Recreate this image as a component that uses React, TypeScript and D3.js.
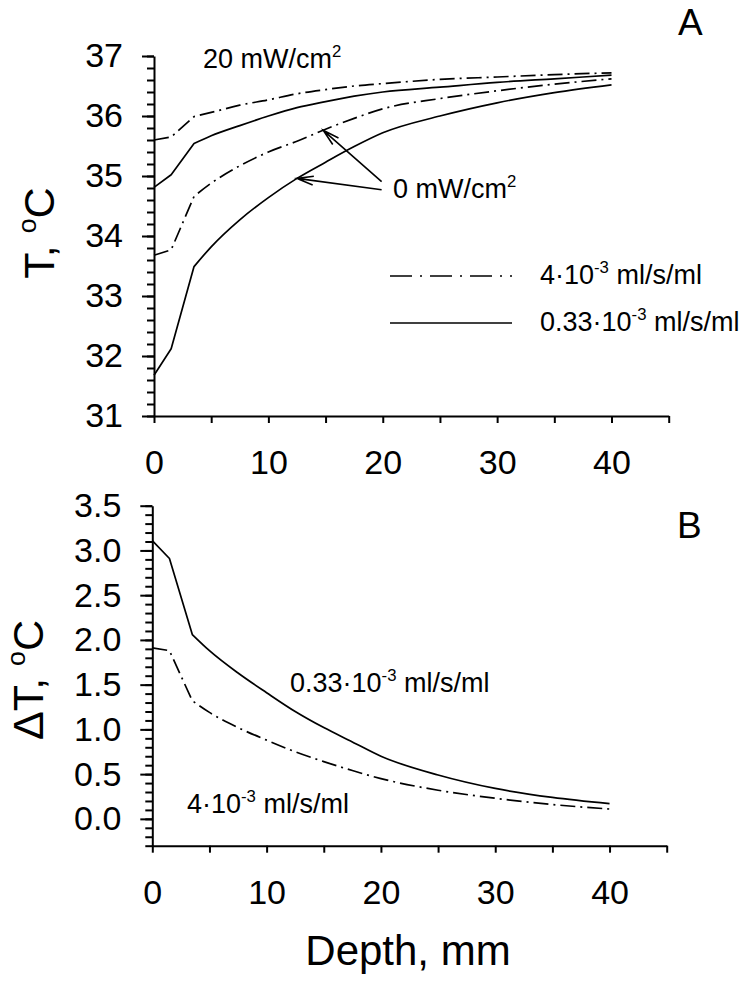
import React, { useRef, useEffect } from 'react';
import * as d3 from 'd3';

// depth grid, mm
const depth = [0, 1.5, 3.5, 5, 7.5, 10, 12.5, 15, 17.5, 20, 25, 30, 35, 40];

// panel A: temperature, °C
const t20Fast = [35.6, 35.65, 35.99, 36.06, 36.18, 36.27, 36.37, 36.44, 36.5, 36.54, 36.61, 36.65, 36.69, 36.72];
const t20Slow = [34.81, 35.02, 35.54, 35.67, 35.84, 36.0, 36.14, 36.24, 36.33, 36.4, 36.48, 36.56, 36.62, 36.68];
const t0Fast = [33.68, 33.77, 34.66, 34.88, 35.17, 35.4, 35.58, 35.78, 35.96, 36.12, 36.29, 36.42, 36.53, 36.62];
const t0Slow = [31.68, 32.12, 33.49, 33.82, 34.27, 34.64, 34.96, 35.23, 35.49, 35.72, 36.0, 36.22, 36.39, 36.52];

// panel B: temperature rise, °C
const dtSlow = [3.11, 2.91, 2.06, 1.88, 1.63, 1.41, 1.2, 1.02, 0.86, 0.7, 0.49, 0.34, 0.24, 0.17];
const dtFast = [1.91, 1.88, 1.32, 1.19, 1.02, 0.88, 0.75, 0.64, 0.54, 0.45, 0.32, 0.23, 0.16, 0.11];

const xLabels = [0, 10, 20, 30, 40];
const tLabels = [31, 32, 33, 34, 35, 36, 37];
const dtLabels = [0, 0.5, 1, 1.5, 2, 2.5, 3, 3.5];

const FONT = '"Liberation Sans", Arial, sans-serif';
const DASHDOT = '15,5,2,5';
const KINK = 2; // index of the last layer boundary (3.5 mm); smooth after it

type Part = { t: string; sup?: boolean };

const richText = (g: any, x: number, y: number, size: number, parts: Part[]) => {
  const text = g.append('text').attr('x', x).attr('y', y).attr('font-size', size).attr('fill', '#000');
  let wasSup = false;
  parts.forEach(p => {
    const ts = text.append('tspan').text(p.t);
    if (p.sup) {
      ts.attr('font-size', size * 0.62).attr('dy', -size * 0.42);
      wasSup = true;
    } else if (wasSup) {
      ts.attr('dy', size * 0.42);
      wasSup = false;
    }
  });
  return text;
};

const App = () => {
  const ref = useRef<SVGSVGElement | null>(null);

  useEffect(() => {
    if (!ref.current) return;
    const svg = d3.select(ref.current);
    svg.selectAll('*').remove();
    svg.append('rect').attr('width', 750).attr('height', 1004).attr('fill', '#fff');
    const root = svg.append('g').attr('font-family', FONT);

    // Scales
    const xA = d3.scaleLinear().domain([0, 45]).range([154, 668.7]);
    const yA = d3.scaleLinear().domain([31, 37]).range([416, 56]);
    const xB = d3.scaleLinear().domain([0, 45]).range([152.3, 666.7]);
    const yB = d3.scaleLinear().domain([-0.3, 3.5]).range([845.7, 505.7]);

    const styleAxis = (g: any) => {
      g.select('.domain').attr('stroke', '#000').attr('stroke-width', 2);
      g.selectAll('.tick line').attr('stroke', '#000').attr('stroke-width', 2);
      g.selectAll('.tick text').attr('font-family', FONT).attr('fill', '#000');
    };

    const drawAxes = (x: any, y: any, yMinor: number[], yMajor: number[], fmt: (d: number) => string, yBase: number) => {
      // x axis
      const gx = root.append('g').attr('transform', `translate(0,${yBase})`);
      gx.call(d3.axisBottom(x).tickValues(d3.range(0, 46, 5)).tickSize(7).tickSizeOuter(0).tickFormat(() => ''));
      styleAxis(gx);
      const gxl = root.append('g').attr('transform', `translate(0,${yBase})`);
      gxl.call(d3.axisBottom(x).tickValues(xLabels).tickSize(0).tickPadding(34).tickFormat(d3.format('d')));
      gxl.select('.domain').remove();
      gxl.selectAll('.tick text').attr('font-size', 34).attr('font-family', FONT).attr('fill', '#000');

      // y axis minor
      const gy = root.append('g').attr('transform', `translate(${x.range()[0]},0)`);
      gy.call(d3.axisLeft(y).tickValues(yMinor).tickSize(7).tickSizeOuter(0).tickFormat(() => ''));
      styleAxis(gy);
      const gyM = root.append('g').attr('transform', `translate(${x.range()[0]},0)`);
      gyM.call(d3.axisLeft(y).tickValues(yMajor).tickSize(12).tickPadding(19).tickFormat(fmt as any));
      gyM.select('.domain').remove();
      styleAxis(gyM);
      gyM.selectAll('.tick text').attr('font-size', 34);
    };

    drawAxes(xA, yA, d3.range(31, 37.001, 0.2), tLabels, d3.format('d'), 416);
    drawAxes(xB, yB, d3.range(-0.3, 3.501, 0.1), dtLabels, d3.format('.1f'), 845.7);

    // Curves: straight through the skin layers, smooth in the deep tissue
    const plot = (x: any, y: any, vals: number[], dashed: boolean) => {
      const pts: [number, number][] = vals.map((v, i) => [x(depth[i]), y(v)]);
      const head = d3.line()(pts.slice(0, KINK + 1)) || '';
      const tail = d3.line().curve(d3.curveMonotoneX)(pts.slice(KINK)) || '';
      root.append('path')
        .attr('d', head + 'L' + tail.slice(1))
        .attr('fill', 'none')
        .attr('stroke', '#000')
        .attr('stroke-width', 1.7)
        .attr('stroke-linejoin', 'round')
        .attr('stroke-dasharray', dashed ? DASHDOT : null);
    };
    plot(xA, yA, t20Fast, true);
    plot(xA, yA, t20Slow, false);
    plot(xA, yA, t0Fast, true);
    plot(xA, yA, t0Slow, false);
    plot(xB, yB, dtSlow, false);
    plot(xB, yB, dtFast, true);

    // Panel letters
    root.append('text').attr('x', 678).attr('y', 35).attr('font-size', 37).text('A');
    root.append('text').attr('x', 677).attr('y', 538).attr('font-size', 37).text('B');

    // Axis titles
    const yTitle = (cx: number, cy: number, parts: Part[]) => {
      const g = root.append('g').attr('transform', `translate(${cx},${cy}) rotate(-90)`);
      return richText(g, 0, 0, 43, parts).attr('text-anchor', 'middle');
    };
    yTitle(54, 233, [{ t: 'T, ' }, { t: 'o', sup: true }, { t: 'C' }]);
    yTitle(43, 680, [{ t: '\u0394T, ' }, { t: 'o', sup: true }, { t: 'C' }]);
    root.append('text').attr('x', 408).attr('y', 965).attr('text-anchor', 'middle')
      .attr('font-size', 42).text('Depth, mm');

    // Annotations, panel A
    richText(root, 203, 68, 27, [{ t: '20 mW/cm' }, { t: '2', sup: true }]);
    richText(root, 393, 198, 27, [{ t: '0 mW/cm' }, { t: '2', sup: true }]);

    const arrows = [
      { from: [19.9, 34.905], to: [14.8, 35.76] },
      { from: [19.9, 34.77], to: [12.5, 34.96] },
    ];
    arrows.forEach(a => {
      const x1 = xA(a.from[0]), y1 = yA(a.from[1]);
      const x2 = xA(a.to[0]), y2 = yA(a.to[1]);
      const ang = Math.atan2(y1 - y2, x1 - x2);
      const len = 17, spread = 0.26;
      const p = d3.path();
      p.moveTo(x1, y1);
      p.lineTo(x2, y2);
      p.moveTo(x2 + len * Math.cos(ang + spread), y2 + len * Math.sin(ang + spread));
      p.lineTo(x2, y2);
      p.lineTo(x2 + len * Math.cos(ang - spread), y2 + len * Math.sin(ang - spread));
      root.append('path').attr('d', p.toString()).attr('fill', 'none')
        .attr('stroke', '#000').attr('stroke-width', 1.6);
    });

    // Legend, panel A
    const legend = [
      { y: 276, dashed: true, parts: [{ t: '4·10' }, { t: '-3', sup: true }, { t: ' ml/s/ml' }] },
      { y: 323, dashed: false, parts: [{ t: '0.33·10' }, { t: '-3', sup: true }, { t: ' ml/s/ml' }] },
    ];
    legend.forEach(l => {
      root.append('line').attr('x1', 390).attr('x2', 512).attr('y1', l.y).attr('y2', l.y)
        .attr('stroke', '#000').attr('stroke-width', 1.3)
        .attr('stroke-dasharray', l.dashed ? '22,8,2,8' : null);
      richText(root, 540, l.y + 8, 27, l.parts);
    });

    // Annotations, panel B
    richText(root, 290, 692, 27, [{ t: '0.33·10' }, { t: '-3', sup: true }, { t: ' ml/s/ml' }]);
    richText(root, 187, 813, 27, [{ t: '4·10' }, { t: '-3', sup: true }, { t: ' ml/s/ml' }]);
  }, []);

  return (
    <div style={{ position: 'absolute', left: 0, top: 0, width: 750, height: 1004 }}>
      <svg ref={ref} width={750} height={1004} style={{ display: 'block' }} />
    </div>
  );
};

export default App;
